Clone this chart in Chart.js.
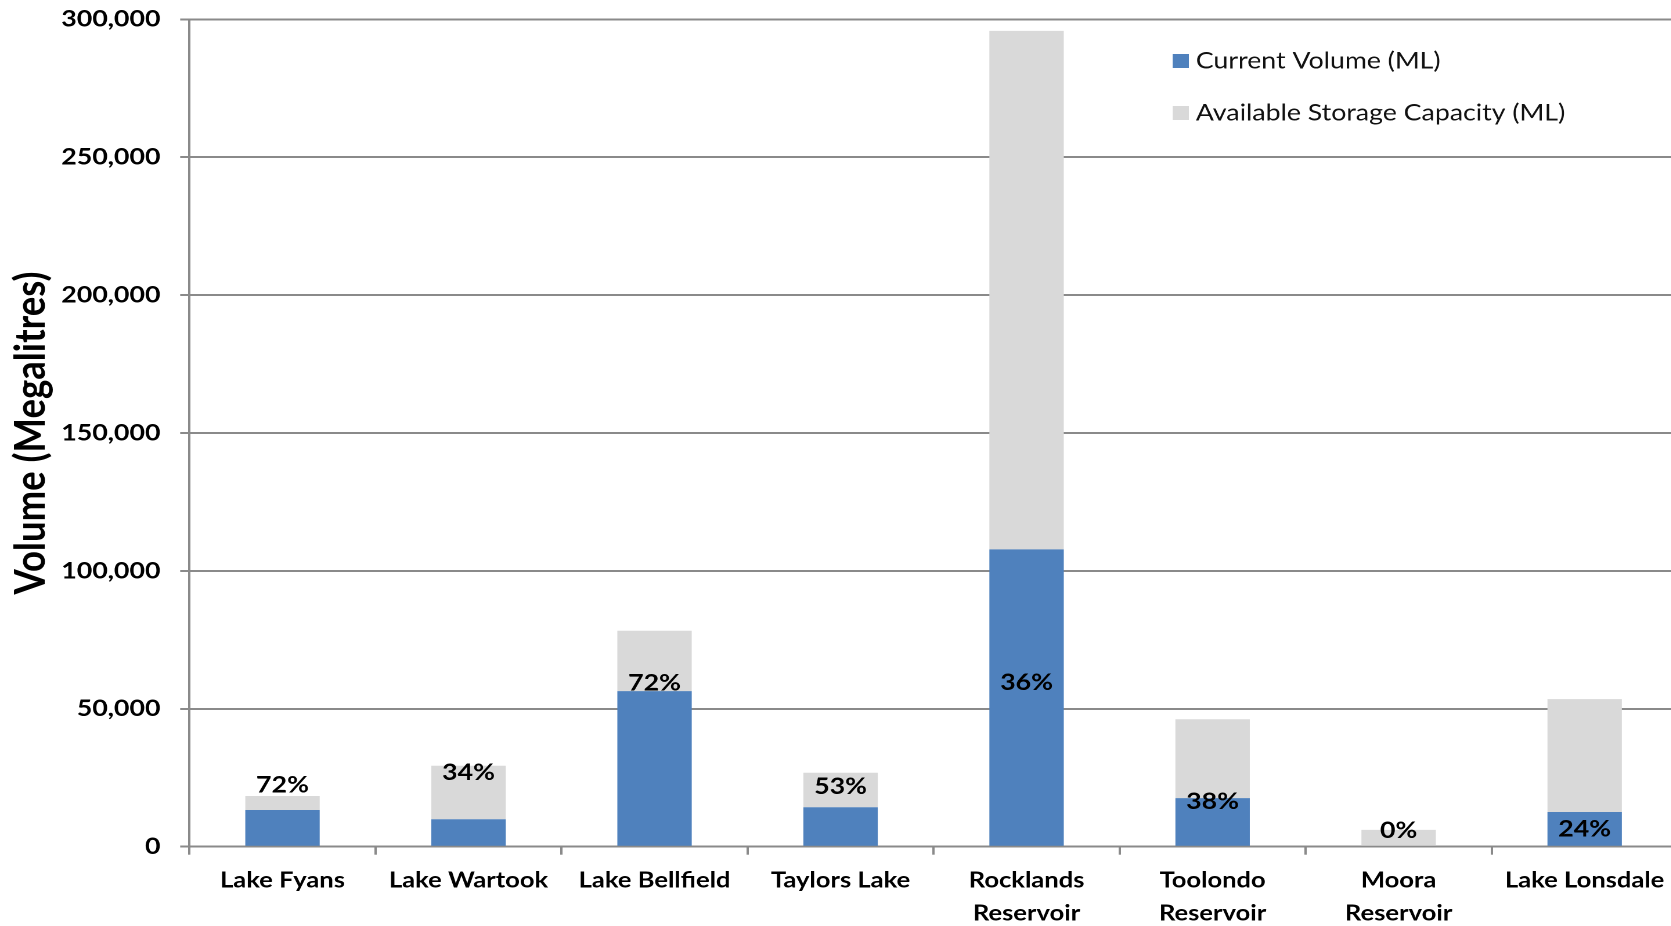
<!DOCTYPE html>
<html>
<head>
<meta charset="utf-8">
<script src="https://cdn.jsdelivr.net/npm/chart.js@4.4.1/dist/chart.umd.min.js"></script>
<style>
  html, body { margin: 0; padding: 0; background: #fff; overflow: hidden; }
  /* the source picture is stretched sideways, so the whole chart is too */
  #wrap { width: 1445px; height: 926px; transform: scaleX(1.161); transform-origin: 0 0; }
</style>
</head>
<body>
<div id="wrap"><canvas id="grafico" width="1445" height="926"></canvas></div>
<script>
// storages, volumes in megalitres
const categorias = ['Lake Fyans', 'Lake Wartook', 'Lake Bellfield', 'Taylors Lake',
                    ['Rocklands', 'Reservoir'], ['Toolondo', 'Reservoir'], ['Moora', 'Reservoir'], 'Lake Lonsdale'];
const volumenActual     = [13300, 9950, 56400, 14300, 107800, 17600, 0, 12600];
const capacidadLibre    = [5100, 19400, 21900, 12500, 188000, 28600, 6100, 40900];
const porcentajeLleno   = [72, 34, 72, 53, 36, 38, 0, 24];
// value (ML) where each percentage label sits, as placed in the original
const alturaEtiqueta    = [22400, 26800, 59300, 21800, 59500, 16300, 5800, 6300];
const ejeYMax   = 300000;
const ejeYPaso  = 50000;

const colorAzul = '#4f81bd';
const colorGris = '#d9d9d9';
const colorRejilla = '#8a8a8a';
const fuente = 'Lato';

const etiquetasPct = {
    id: 'etiquetasPct',
    afterDatasetsDraw(chart) {
        const ctx = chart.ctx;
        const meta = chart.getDatasetMeta(0);
        ctx.save();
        ctx.font = 'bold 23px ' + fuente;
        ctx.fillStyle = '#000';
        ctx.textAlign = 'center';
        ctx.textBaseline = 'middle';
        meta.data.forEach((barra, i) => {
            const y = chart.scales.y.getPixelForValue(alturaEtiqueta[i]);
            ctx.fillText(porcentajeLleno[i] + '%', barra.x, y);
        });
        ctx.restore();
    }
};

const leyenda = {
    id: 'leyenda',
    afterDraw(chart) {
        const ctx = chart.ctx;
        ctx.save();
        ctx.font = '23px ' + fuente;
        ctx.textBaseline = 'middle';
        chart.data.datasets.forEach((ds, i) => {
            const y = 61 + i * 52;
            ctx.fillStyle = ds.backgroundColor;
            ctx.fillRect(1010, y - 7, 14, 14);
            ctx.fillStyle = '#111';
            ctx.fillText(ds.label, 1030, y);
        });
        ctx.restore();
    }
};

new Chart(document.getElementById('grafico'), {
    type: 'bar',
    data: {
        labels: categorias,
        datasets: [
            { label: 'Current Volume (ML)', data: volumenActual, backgroundColor: colorAzul },
            { label: 'Available Storage Capacity (ML)', data: capacidadLibre, backgroundColor: colorGris }
        ]
    },
    options: {
        responsive: false,
        animation: false,
        devicePixelRatio: 2,
        layout: { padding: { top: 19.3, right: 0, bottom: 0, left: 0 } },
        datasets: { bar: { categoryPercentage: 1, barPercentage: 0.4 } },
        plugins: { legend: { display: false }, tooltip: { enabled: false } },
        scales: {
            x: {
                stacked: true,
                grid: { drawOnChartArea: false, drawTicks: true, tickLength: 8, color: colorRejilla, lineWidth: 2, offset: true },
                border: { color: colorRejilla, width: 2 },
                ticks: {
                    color: '#000', padding: 9, maxRotation: 0, autoSkip: false,
                    font: { family: fuente, size: 22, weight: 'bold', lineHeight: 1.5 }
                },
                afterFit(escala) { escala.height = 79.3; }
            },
            y: {
                stacked: true,
                min: 0, max: ejeYMax,
                grid: { color: colorRejilla, lineWidth: 2, tickLength: 8 },
                border: { color: colorRejilla, width: 2 },
                ticks: {
                    stepSize: ejeYPaso, color: '#000', padding: 17,
                    font: { family: fuente, size: 23, weight: 'bold' },
                    callback: v => v.toLocaleString('en-US')
                },
                title: {
                    display: true, text: 'Volume (Megalitres)', color: '#000',
                    font: { family: fuente, size: 36.5, weight: 'bold' },
                    padding: { top: 5, bottom: 0 }
                },
                afterFit(escala) {
                    escala.width = 163.2;
                    escala.paddingTop = 0;
                    escala.paddingBottom = 0;
                }
            }
        }
    },
    plugins: [etiquetasPct, leyenda]
});
</script>
</body>
</html>
